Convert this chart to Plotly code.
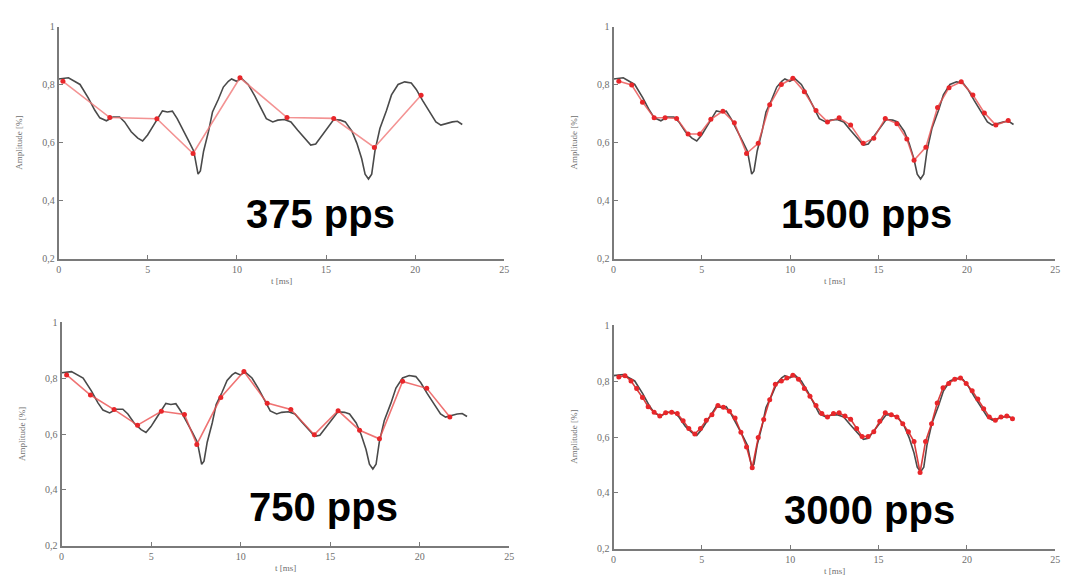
import plotly.graph_objects as go

# ---- continuous (black) signal ----
sig_t = [0.0, 0.55, 1.2, 1.66, 2.03, 2.31, 2.68, 3.05, 3.42, 3.70, 4.07, 4.44, 4.71, 4.99,
         5.27, 5.55, 5.82, 6.10, 6.38, 6.65, 6.93, 7.30, 7.58, 7.71, 7.82, 7.95, 8.13, 8.41,
         8.63, 8.96, 9.24, 9.52, 9.70, 9.98, 10.26, 10.63, 11.0, 11.37, 11.65, 12.01, 12.29,
         12.66, 13.03, 13.40, 13.77, 14.14, 14.42, 14.79, 15.16, 15.43, 15.80, 16.08, 16.45,
         16.73, 17.0, 17.19, 17.38, 17.56, 17.74, 18.02, 18.39, 18.67, 19.04, 19.41, 19.78,
         20.06, 20.42, 20.79, 21.16, 21.44, 21.72, 22.09, 22.37, 22.64]
sig_v = [0.820, 0.824, 0.801, 0.755, 0.712, 0.686, 0.676, 0.689, 0.689, 0.672, 0.638, 0.616,
         0.606, 0.627, 0.655, 0.683, 0.710, 0.706, 0.709, 0.683, 0.652, 0.606, 0.571, 0.526,
         0.492, 0.503, 0.571, 0.640, 0.706, 0.750, 0.792, 0.812, 0.820, 0.812, 0.822, 0.801,
         0.762, 0.717, 0.683, 0.672, 0.678, 0.680, 0.672, 0.644, 0.616, 0.592, 0.596, 0.627,
         0.658, 0.680, 0.678, 0.672, 0.640, 0.598, 0.545, 0.492, 0.475, 0.492, 0.571, 0.649,
         0.711, 0.765, 0.801, 0.810, 0.806, 0.784, 0.745, 0.706, 0.672, 0.661, 0.666, 0.672,
         0.674, 0.663]

# ---- sampled (red) series ----
t_375 = [0.24, 2.87, 5.51, 7.54, 10.17, 12.81, 15.43, 17.71, 20.33]
v_375 = [0.812, 0.687, 0.683, 0.563, 0.824, 0.687, 0.684, 0.584, 0.764]

t_750 = [0.28, 1.61, 2.93, 4.24, 5.57, 6.86, 7.55, 8.89, 10.18, 11.48, 12.80, 14.11, 15.44,
         16.64, 17.75, 19.04, 20.39, 21.68]
v_750 = [0.812, 0.740, 0.688, 0.632, 0.682, 0.670, 0.563, 0.731, 0.824, 0.711, 0.688, 0.598,
         0.684, 0.614, 0.583, 0.789, 0.764, 0.661]

t_1500 = [0.30, 1.03, 1.64, 2.30, 2.92, 3.57, 4.22, 4.88, 5.51, 6.19, 6.84, 7.53, 8.19, 8.84,
          9.50, 10.15, 10.80, 11.46, 12.11, 12.77, 13.42, 14.13, 14.73, 15.38, 16.04, 16.60,
          17.01, 17.68, 18.34, 18.99, 19.68, 20.34, 20.99, 21.64, 22.34]
v_1500 = [0.812, 0.799, 0.740, 0.686, 0.686, 0.684, 0.630, 0.630, 0.681, 0.709, 0.669, 0.563,
          0.598, 0.731, 0.801, 0.822, 0.776, 0.711, 0.672, 0.686, 0.661, 0.598, 0.616, 0.684,
          0.666, 0.613, 0.540, 0.585, 0.722, 0.790, 0.810, 0.765, 0.703, 0.661, 0.677]

t_3000 = [0.30, 0.65, 0.99, 1.31, 1.64, 1.96, 2.30, 2.62, 2.95, 3.29, 3.61, 3.94, 4.26, 4.60,
          4.92, 5.25, 5.57, 5.91, 6.22, 6.56, 6.88, 7.21, 7.53, 7.85, 8.19, 8.50, 8.84, 9.16,
          9.50, 9.81, 10.15, 10.47, 10.80, 11.12, 11.46, 11.79, 12.11, 12.45, 12.77, 13.10,
          13.42, 13.76, 14.07, 14.41, 14.73, 15.07, 15.38, 15.72, 16.04, 16.37, 16.69, 17.01,
          17.35, 17.66, 18.0, 18.32, 18.65, 18.97, 19.31, 19.64, 19.96, 20.30, 20.62, 20.95,
          21.27, 21.61, 21.93, 22.26, 22.58]
v_3000 = [0.815, 0.820, 0.801, 0.774, 0.742, 0.709, 0.689, 0.675, 0.687, 0.689, 0.684, 0.658,
          0.631, 0.611, 0.631, 0.660, 0.680, 0.713, 0.707, 0.692, 0.668, 0.617, 0.564, 0.490,
          0.598, 0.663, 0.734, 0.789, 0.801, 0.812, 0.821, 0.807, 0.774, 0.746, 0.713, 0.684,
          0.672, 0.684, 0.687, 0.675, 0.664, 0.631, 0.602, 0.602, 0.619, 0.657, 0.687, 0.680,
          0.672, 0.648, 0.619, 0.584, 0.473, 0.584, 0.648, 0.722, 0.777, 0.792, 0.807, 0.812,
          0.792, 0.766, 0.736, 0.701, 0.672, 0.660, 0.672, 0.675, 0.666]

panel_labels = ["375 pps", "1500 pps", "750 pps", "3000 pps"]
x_ticks = [0, 5, 10, 15, 20, 25]
y_ticks = [0.2, 0.4, 0.6, 0.8, 1.0]
y_tick_text = ["0,2", "0,4", "0,6", "0,8", "1"]
x_title = "t [ms]"
y_title = "Amplitude [%]"

W, H = 1083, 579
# pixel boxes: (x_left, x_right, y_top, y_bottom)
boxes = [(48, 497, 13, 250), (607, 1052, 13, 250), (51, 502, 315, 543), (607, 1052, 318, 546)]
samples = [(t_375, v_375), (t_1500, v_1500), (t_750, v_750), (t_3000, v_3000)]
label_pos = [(312, 204), (862, 204), (315, 503), (865, 506)]
red_line = ["rgba(240,120,120,0.8)", "rgba(235,80,80,0.8)", "rgba(235,80,80,0.8)",
            "rgba(215,40,40,0.9)"]

fig = go.Figure()
axis_col = "#7a7a7a"
tick_font = dict(family="Liberation Serif, DejaVu Serif, serif", size=10, color="#6e6e6e")

for i, ((xl, xr, yt, yb), (ts, vs)) in enumerate(zip(boxes, samples)):
    n = i + 1
    xa = "x" if n == 1 else f"x{n}"
    ya = "y" if n == 1 else f"y{n}"
    fig.add_trace(go.Scatter(x=sig_t, y=sig_v, mode="lines", xaxis=xa, yaxis=ya,
                             line=dict(color="#4a4a4a", width=1.6), showlegend=False,
                             hoverinfo="skip"))
    fig.add_trace(go.Scatter(x=ts, y=vs, mode="lines+markers", xaxis=xa, yaxis=ya,
                             line=dict(color=red_line[i], width=1.6),
                             marker=dict(color="#e8262a", size=5), showlegend=False))
    xkey = "xaxis" if n == 1 else f"xaxis{n}"
    ykey = "yaxis" if n == 1 else f"yaxis{n}"
    fig.layout[xkey] = dict(domain=[xl / W, xr / W], anchor=ya, range=[0, 25],
                            tickvals=x_ticks, ticks="inside", ticklen=4, tickcolor=axis_col,
                            showline=True, linecolor=axis_col, linewidth=2, showgrid=False,
                            zeroline=False, tickfont=tick_font, fixedrange=True)
    fig.layout[ykey] = dict(domain=[1 - yb / H, 1 - yt / H], anchor=xa, range=[0.2, 1.0],
                            tickvals=y_ticks, ticktext=y_tick_text, ticks="inside", ticklen=4,
                            tickcolor=axis_col, showline=True, linecolor=axis_col, linewidth=2,
                            showgrid=False, zeroline=False, tickfont=tick_font,
                            fixedrange=True)
    # axis titles
    fig.add_annotation(x=(xl + xr) / 2 / W, y=1 - (yb + 23) / H, xref="paper", yref="paper",
                       text=x_title, showarrow=False, font=dict(tick_font, size=9),
                       xanchor="center", yanchor="middle", borderpad=0)
    fig.add_annotation(x=(xl - 40) / W, y=1 - (yt + yb) / 2 / H, xref="paper", yref="paper",
                       text=y_title, showarrow=False, font=dict(tick_font, size=9),
                       textangle=-90, xanchor="center", yanchor="middle")
    lx, ly = label_pos[i]
    fig.add_annotation(x=lx / W, y=1 - ly / H, xref="paper", yref="paper",
                       text=f"<b>{panel_labels[i]}</b>", showarrow=False,
                       font=dict(family="Liberation Sans, Arial, sans-serif", size=40,
                                 color="black"),
                       xanchor="center", yanchor="middle")

fig.update_layout(width=W, height=H, margin=dict(l=0, r=0, t=0, b=0),
                  paper_bgcolor="white", plot_bgcolor="white", showlegend=False)
fig.write_html("out.html")
